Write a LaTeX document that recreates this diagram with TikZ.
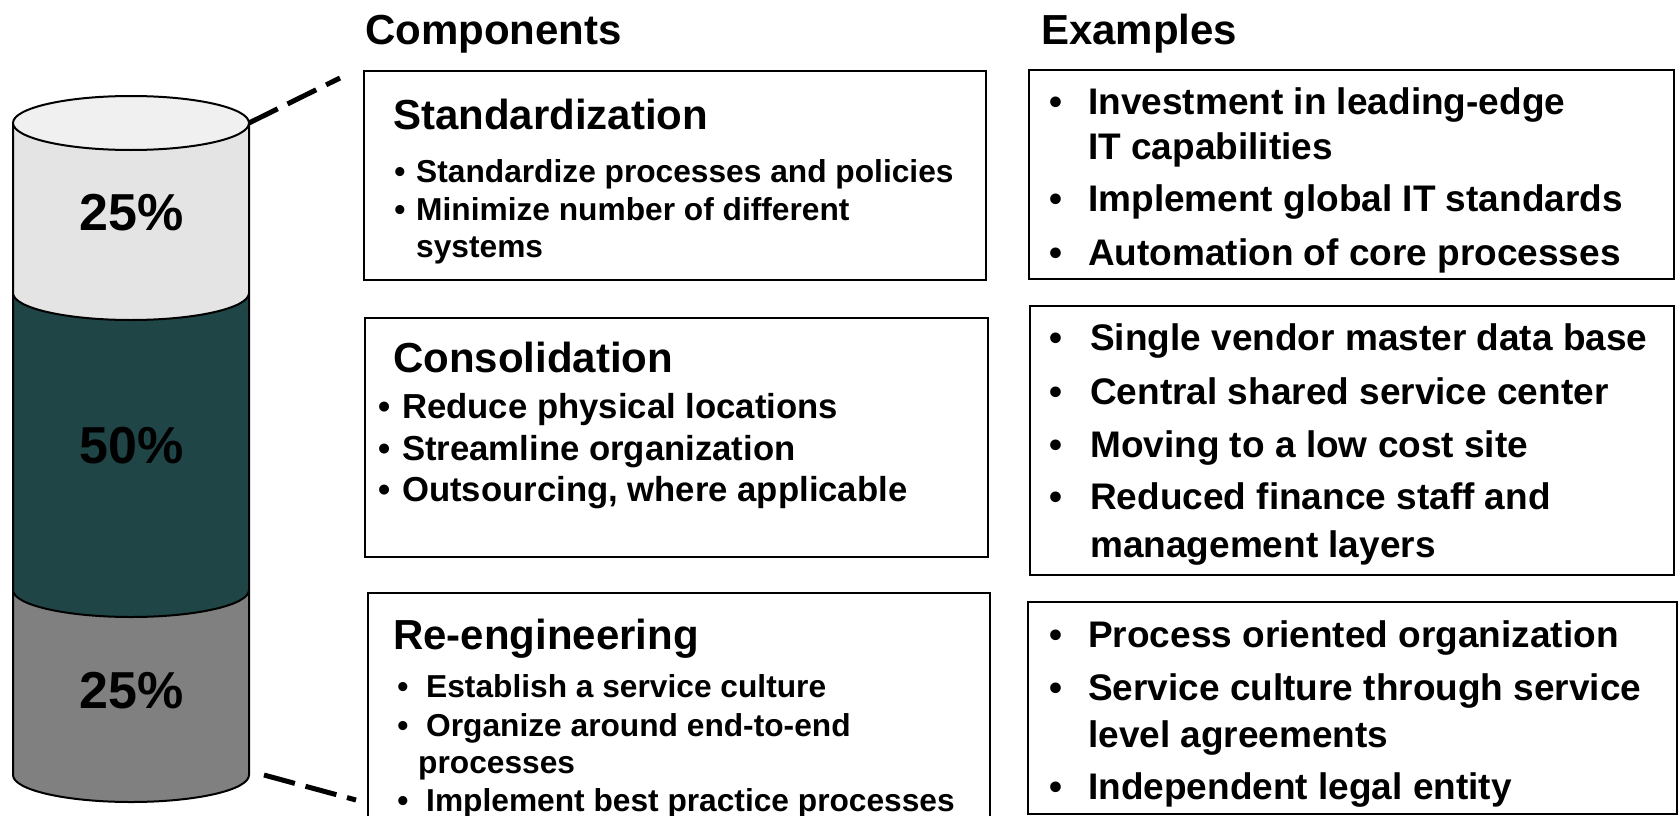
\documentclass[tikz,border=0pt]{standalone}
\usepackage{fontspec}
\setmainfont{Liberation Sans}
\definecolor{cTopSide}{HTML}{E4E4E4}
\definecolor{cTopCap}{HTML}{F0F0F0}
\definecolor{cMid}{HTML}{1F4547}
\definecolor{cBot}{HTML}{808080}
\begin{document}
\begin{tikzpicture}[x=1pt,y=-1pt,
  box/.style={draw=black, line width=2.2pt, fill=white, rectangle, inner sep=0pt, anchor=north west},
  hdr/.style={font=\fontsize{42}{50}\selectfont\bfseries, anchor=base west, inner sep=0pt},
  ttl/.style={font=\fontsize{42}{50}\selectfont\bfseries, anchor=base west, inner sep=0pt},
  csm/.style={font=\fontsize{31.7}{38}\selectfont\bfseries, anchor=base west, inner sep=0pt},
  cmd/.style={font=\fontsize{34.7}{41}\selectfont\bfseries, anchor=base west, inner sep=0pt},
  bsm/.style={font=\fontsize{31.7}{38}\selectfont\bfseries, anchor=base, inner sep=0pt},
  bmd/.style={font=\fontsize{34.7}{41}\selectfont\bfseries, anchor=base, inner sep=0pt},
  ex/.style={font=\fontsize{37}{44}\selectfont\bfseries, anchor=base west, inner sep=0pt},
  bex/.style={font=\fontsize{37}{44}\selectfont\bfseries, anchor=base, inner sep=0pt},
  pct/.style={font=\fontsize{52}{60}\selectfont\bfseries, anchor=base, inner sep=0pt},
  cyl/.style={draw=black, line width=2pt},
  dashln/.style={draw=black, line width=5pt, dash pattern=on 32pt off 11pt},
]
\useasboundingbox (0,0) rectangle (1678,816);
\fill[white] (0,0) rectangle (1678,816);

% ---------- cylinder ----------
\fill[cBot] (13,590) -- (13,775) arc[start angle=180,end angle=360,x radius=118pt,y radius=27pt] -- (249,590) -- cycle;
\draw[cyl] (13,590) -- (13,775) arc[start angle=180,end angle=360,x radius=118pt,y radius=27pt] -- (249,590);
\fill[cMid] (13,293) -- (13,590) arc[start angle=180,end angle=360,x radius=118pt,y radius=27pt] -- (249,293) -- cycle;
\draw[cyl] (13,293) -- (13,590) arc[start angle=180,end angle=360,x radius=118pt,y radius=27pt] -- (249,293);
\fill[cTopSide] (13,123) -- (13,293) arc[start angle=180,end angle=360,x radius=118pt,y radius=27pt] -- (249,123) -- cycle;
\draw[cyl] (13,123) -- (13,293) arc[start angle=180,end angle=360,x radius=118pt,y radius=27pt] -- (249,123);
\filldraw[cyl, fill=cTopCap] (131,123) ellipse[x radius=118pt, y radius=27pt];

\node[pct] (p1) at (132,230) {25\%};
\node[pct] (p2) at (132,463) {50\%};
\node[pct] (p3) at (132,708) {25\%};

\coordinate (cylTR) at (249,123);
\coordinate (cylBR) at (264,775);
\coordinate (dTop) at (340,78);
\coordinate (dBot) at (356,800);
\draw[dashln] (cylTR) -- (dTop);
\draw[dashln] (cylBR) -- (dBot);

% ---------- headers ----------
\node[hdr] (hComp) at (365,45) {Components};
\node[hdr] (hEx) at (1041,45) {Examples};

% ---------- component boxes ----------
\node[box, minimum width=622pt, minimum height=209pt] (box1) at (363,70) {};
\node[box, minimum width=623pt, minimum height=239pt] (box2) at (364,317) {};
\node[box, minimum width=622pt, minimum height=250pt] (box3) at (367,592) {};

\node[ttl] (t1) at (393,129) {Standardization};
\node[bsm] (b11) at (400,182) {•};
\node[csm] (s11) at (416,182) {Standardize processes and policies};
\node[bsm] (b12) at (400,220) {•};
\node[csm] (s12) at (416,220) {Minimize number of different};
\node[csm] (s13) at (416,257) {systems};

\node[ttl] (t2) at (393,372) {Consolidation};
\node[bmd] (b21) at (385,418) {•};
\node[cmd] (s21) at (402,418) {Reduce physical locations};
\node[bmd] (b22) at (385,460) {•};
\node[cmd] (s22) at (402,460) {Streamline organization};
\node[bmd] (b23) at (385,501) {•};
\node[cmd] (s23) at (402,501) {Outsourcing, where applicable};

\node[ttl] (t3) at (393,649) {Re-engineering};
\node[bsm] (b31) at (403,697) {•};
\node[csm] (s31) at (426,697) {Establish a service culture};
\node[bsm] (b32) at (403,736) {•};
\node[csm] (s32) at (426,736) {Organize around end-to-end};
\node[csm] (s33) at (418,773) {processes};
\node[bsm] (b34) at (403,811) {•};
\node[csm] (s34) at (426,811) {Implement best practice processes};

% ---------- example boxes ----------
\node[box, minimum width=645pt, minimum height=209pt] (boxA) at (1028,69) {};
\node[box, minimum width=644pt, minimum height=269pt] (boxB) at (1029,305) {};
\node[box, minimum width=649pt, minimum height=212pt] (boxC) at (1027,601) {};

\node[bex] (ba1) at (1056,114) {•};
\node[ex] (ea1) at (1088,114) {Investment in leading-edge};
\node[ex] (ea2) at (1088,159) {IT capabilities};
\node[bex] (ba3) at (1056,211) {•};
\node[ex] (ea3) at (1088,211) {Implement global IT standards};
\node[bex] (ba4) at (1056,265) {•};
\node[ex] (ea4) at (1088,265) {Automation of core processes};

\node[bex] (bb1) at (1056,350) {•};
\node[ex] (eb1) at (1090,350) {Single vendor master data base};
\node[bex] (bb2) at (1056,404) {•};
\node[ex] (eb2) at (1090,404) {Central shared service center};
\node[bex] (bb3) at (1056,457) {•};
\node[ex] (eb3) at (1090,457) {Moving to a low cost site};
\node[bex] (bb4) at (1056,509) {•};
\node[ex] (eb4) at (1090,509) {Reduced finance staff and};
\node[ex] (eb5) at (1090,557) {management layers};

\node[bex] (bc1) at (1056,647) {•};
\node[ex] (ec1) at (1088,647) {Process oriented organization};
\node[bex] (bc2) at (1056,700) {•};
\node[ex] (ec2) at (1088,700) {Service culture through service};
\node[ex] (ec3) at (1088,747) {level agreements};
\node[bex] (bc4) at (1056,799) {•};
\node[ex] (ec4) at (1088,799) {Independent legal entity};
\end{tikzpicture}
\end{document}
